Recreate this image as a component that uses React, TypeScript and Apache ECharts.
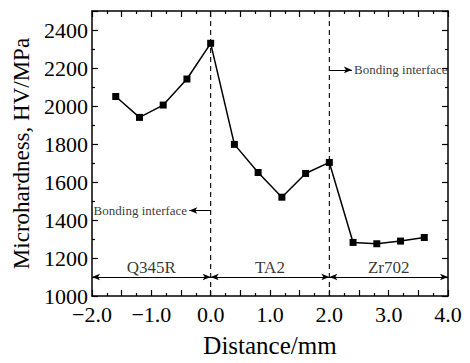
import React, { useEffect, useRef } from "react";
import * as echarts from "echarts";

const distances = [-1.6, -1.2, -0.8, -0.4, 0, 0.4, 0.8, 1.2, 1.6, 2.0, 2.4, 2.8, 3.2, 3.6];
const hardness = [2050, 1940, 2005, 2142, 2330, 1798, 1650, 1520, 1645, 1703, 1282, 1275, 1289, 1308];
const interfaces = [0, 2];
const regions = [
  { name: "Q345R", from: -2, to: 0 },
  { name: "TA2", from: 0, to: 2 },
  { name: "Zr702", from: 2, to: 4 },
];
const regionY = 1100;
const bondingLeft = { from: [0, 1450], to: [-0.36, 1450], textAt: [-0.38, 1450] };
const bondingRight = { from: [2, 2190], to: [2.38, 2190], textAt: [2.4, 2190] };
const xTickLabels = [-2, -1, 0, 1, 2, 3, 4];
const yMin = 1000;
const yMax = 2500;

const FONT = "Liberation Serif";

export default function App() {
  const ref = useRef<HTMLDivElement>(null);
  useEffect(() => {
    const chart = echarts.init(ref.current!, null, { renderer: "svg" });
    const axisCommon = {
      axisLine: { show: true, onZero: false, lineStyle: { color: "#000", width: 1.5 } },
      splitLine: { show: false },
      axisTick: { show: true, inside: true, length: 6, lineStyle: { color: "#000", width: 1.2 } },
      minorTick: { show: true, splitNumber: 2, length: 3, lineStyle: { color: "#000", width: 1.2 } },
    };
    const textStyle = { fontFamily: FONT, fontWeight: "normal", color: "#000" };
    const interfaceSeries = interfaces.map((x) => ({
      type: "line",
      data: [
        [x, yMin],
        [x, yMax],
      ],
      symbol: "none",
      silent: true,
      clip: false,
      lineStyle: { color: "#000", type: [5, 4], width: 1.1 },
      z: 2,
    }));
    chart.setOption({
      animation: false,
      backgroundColor: "#fff",
      grid: { left: 92, right: 22, top: 11, bottom: 63 },
      xAxis: [
        {
          type: "value",
          min: -2,
          max: 4,
          interval: 0.5,
          ...axisCommon,
          name: "Distance/mm",
          nameLocation: "middle",
          nameGap: 37,
          nameTextStyle: { ...textStyle, fontSize: 25 },
          axisLabel: {
            margin: 7,
            ...textStyle,
            fontSize: 22,
            formatter: (v: number) =>
              xTickLabels.includes(v) ? (v < 0 ? "\u2212" + Math.abs(v).toFixed(1) : v.toFixed(1)) : "",
          },
        },
        {
          type: "value",
          position: "top",
          min: -2,
          max: 4,
          interval: 0.5,
          ...axisCommon,
          axisLabel: { show: false },
        },
      ],
      yAxis: [
        {
          type: "value",
          position: "left",
          min: yMin,
          max: yMax,
          interval: 200,
          ...axisCommon,
          name: "Microhardness, HV/MPa",
          nameLocation: "middle",
          nameGap: 55,
          nameTextStyle: { ...textStyle, fontSize: 23 },
          axisLabel: {
            margin: 4,
            ...textStyle,
            fontSize: 22,
            showMaxLabel: false,
            formatter: (v: number) => (v % 200 === 0 ? String(v) : ""),
          },
        },
        {
          type: "value",
          position: "right",
          min: yMin,
          max: yMax,
          interval: 200,
          ...axisCommon,
          axisLabel: { show: false },
        },
      ],
      series: [
        ...interfaceSeries,
        {
          type: "line",
          data: distances.map((d, i) => [d, hardness[i]]),
          symbol: "rect",
          symbolSize: 7,
          itemStyle: { color: "#000" },
          lineStyle: { color: "#000", width: 1.5 },
          z: 5,
        },
        {
          type: "line",
          data: [],
          markLine: {
            silent: true,
            symbol: ["arrow", "arrow"],
            symbolSize: [5, 8],
            lineStyle: { color: "#000", type: "solid", width: 1 },
            label: { show: false },
            data: regions.map((r) => [{ coord: [r.from, regionY] }, { coord: [r.to, regionY] }]),
          },
        },
        {
          type: "line",
          data: [],
          markLine: {
            silent: true,
            symbol: ["none", "arrow"],
            symbolSize: [5, 8],
            lineStyle: { color: "#000", type: "solid", width: 1 },
            label: { show: false },
            data: [
              [{ coord: bondingLeft.from }, { coord: bondingLeft.to }],
              [{ coord: bondingRight.from }, { coord: bondingRight.to }],
            ],
          },
        },
        {
          type: "scatter",
          silent: true,
          symbolSize: 0,
          data: regions.map((r) => ({
            value: [(r.from + r.to) / 2, regionY],
            name: r.name,
          })),
          label: {
            show: true,
            position: "top",
            distance: 1,
            ...textStyle,
            fontSize: 17,
            formatter: (p: any) => p.name,
          },
        },
        {
          type: "scatter",
          silent: true,
          symbolSize: 0,
          data: [
            { value: bondingLeft.textAt, label: { position: "left" } },
            { value: bondingRight.textAt, label: { position: "right" } },
          ],
          label: {
            show: true,
            distance: 1,
            ...textStyle,
            fontSize: 13,
            formatter: "Bonding interface",
          },
        },
      ],
    });
    return () => chart.dispose();
  }, []);
  return <div ref={ref} style={{ width: 470, height: 363, margin: -8 }} />;
}
